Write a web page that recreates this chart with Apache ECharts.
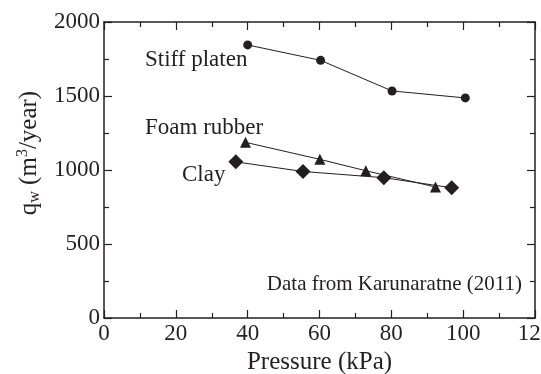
<!DOCTYPE html>
<html><head><meta charset="utf-8">
<script src="https://cdn.jsdelivr.net/npm/echarts@6/dist/echarts.min.js"></script>
<style>html,body{margin:0;padding:0;background:#fff}#c{width:541px;height:374px}</style>
</head><body><div id="c"></div>
<script>
const stiffX = [40, 60.3, 80.2, 100.6];
const stiffY = [1845, 1741, 1534, 1487];
const foamX = [39.4, 60.1, 72.9, 92.3];
const foamY = [1187, 1072, 995, 885];
const clayX = [36.7, 55.4, 77.9, 96.8];
const clayY = [1055, 990, 948, 880];
const xTicks = [0, 20, 40, 60, 80, 100, 120];
const yTicks = [0, 500, 1000, 1500, 2000];
const seriesNames = ['Stiff platen', 'Foam rubber', 'Clay'];
const note = 'Data from Karunaratne (2011)';

const F = 'Liberation Serif, Times New Roman, serif';
const C = '#231f20';
const zip = (a, b) => a.map((v, i) => [v, b[i]]);
const chart = echarts.init(document.getElementById('c'), null, {renderer: 'canvas'});
const axisCommon = () => ({
  axisLine: {show: true, onZero: false, lineStyle: {color: C, width: 1.5}},
  axisTick: {show: true, inside: true, length: 8, lineStyle: {color: C, width: 1.2}},
  minorTick: {show: true, splitNumber: 2, length: 5, lineStyle: {color: C, width: 1.2}},
  splitLine: {show: false}
});
chart.setOption({
  animation: false,
  backgroundColor: '#fff',
  grid: {left: 104, right: 6, top: 22, bottom: 56, outerBoundsMode: 'none', containLabel: false},
  xAxis: [
    Object.assign({type: 'value', min: xTicks[0], max: xTicks[xTicks.length - 1], interval: 20, position: 'bottom',
      name: 'Pressure (kPa)', nameLocation: 'middle', nameGap: 31,
      nameTextStyle: {fontFamily: F, fontSize: 25, color: C},
      axisLabel: {fontFamily: F, fontSize: 23, color: C, margin: 4, formatter: v => String(v)}}, axisCommon()),
    Object.assign({type: 'value', min: xTicks[0], max: xTicks[xTicks.length - 1], interval: 20, position: 'top',
      axisLabel: {show: false}}, axisCommon())
  ],
  yAxis: [
    Object.assign({type: 'value', min: yTicks[0], max: yTicks[yTicks.length - 1], interval: 500, position: 'left',
      name: '{n|q}{s|w}{n| (m}{p|3}{n|/year)}', nameLocation: 'middle', nameGap: 58,
      nameTextStyle: {fontFamily: F, fontSize: 25, color: C, padding: [0, 0, 0, 34],
        rich: {n: {fontFamily: F, fontSize: 25, color: C},
               s: {fontFamily: F, fontSize: 16, color: C, verticalAlign: 'bottom', padding: [12, 0, 0, 0]},
               p: {fontFamily: F, fontSize: 16, color: C, verticalAlign: 'top', padding: [0, 0, 10, 0]}}},
      axisLabel: {fontFamily: F, fontSize: 23, color: C, margin: 4, formatter: v => String(v)}}, axisCommon()),
    Object.assign({type: 'value', min: yTicks[0], max: yTicks[yTicks.length - 1], interval: 500, position: 'right',
      axisLabel: {show: false}}, axisCommon())
  ],
  series: [
    {name: seriesNames[0], type: 'line', data: zip(stiffX, stiffY), symbol: 'circle', symbolSize: 9,
      lineStyle: {color: C, width: 1}, itemStyle: {color: C}},
    {name: seriesNames[1], type: 'line', data: zip(foamX, foamY), symbol: 'triangle', symbolSize: 11,
      lineStyle: {color: C, width: 1}, itemStyle: {color: C}},
    {name: seriesNames[2], type: 'line', data: zip(clayX, clayY), symbol: 'diamond', symbolSize: 15,
      lineStyle: {color: C, width: 1}, itemStyle: {color: C}}
  ],
  graphic: [
    {type: 'text', left: 145, top: 48, style: {text: seriesNames[0], font: '23px ' + F, fill: C}},
    {type: 'text', left: 145, top: 116, style: {text: seriesNames[1], font: '23px ' + F, fill: C}},
    {type: 'text', left: 182, top: 163, style: {text: seriesNames[2], font: '23px ' + F, fill: C}},
    {type: 'text', right: 19, top: 274, style: {text: note, font: '21px ' + F, fill: C}}
  ]
});
</script></body></html>
